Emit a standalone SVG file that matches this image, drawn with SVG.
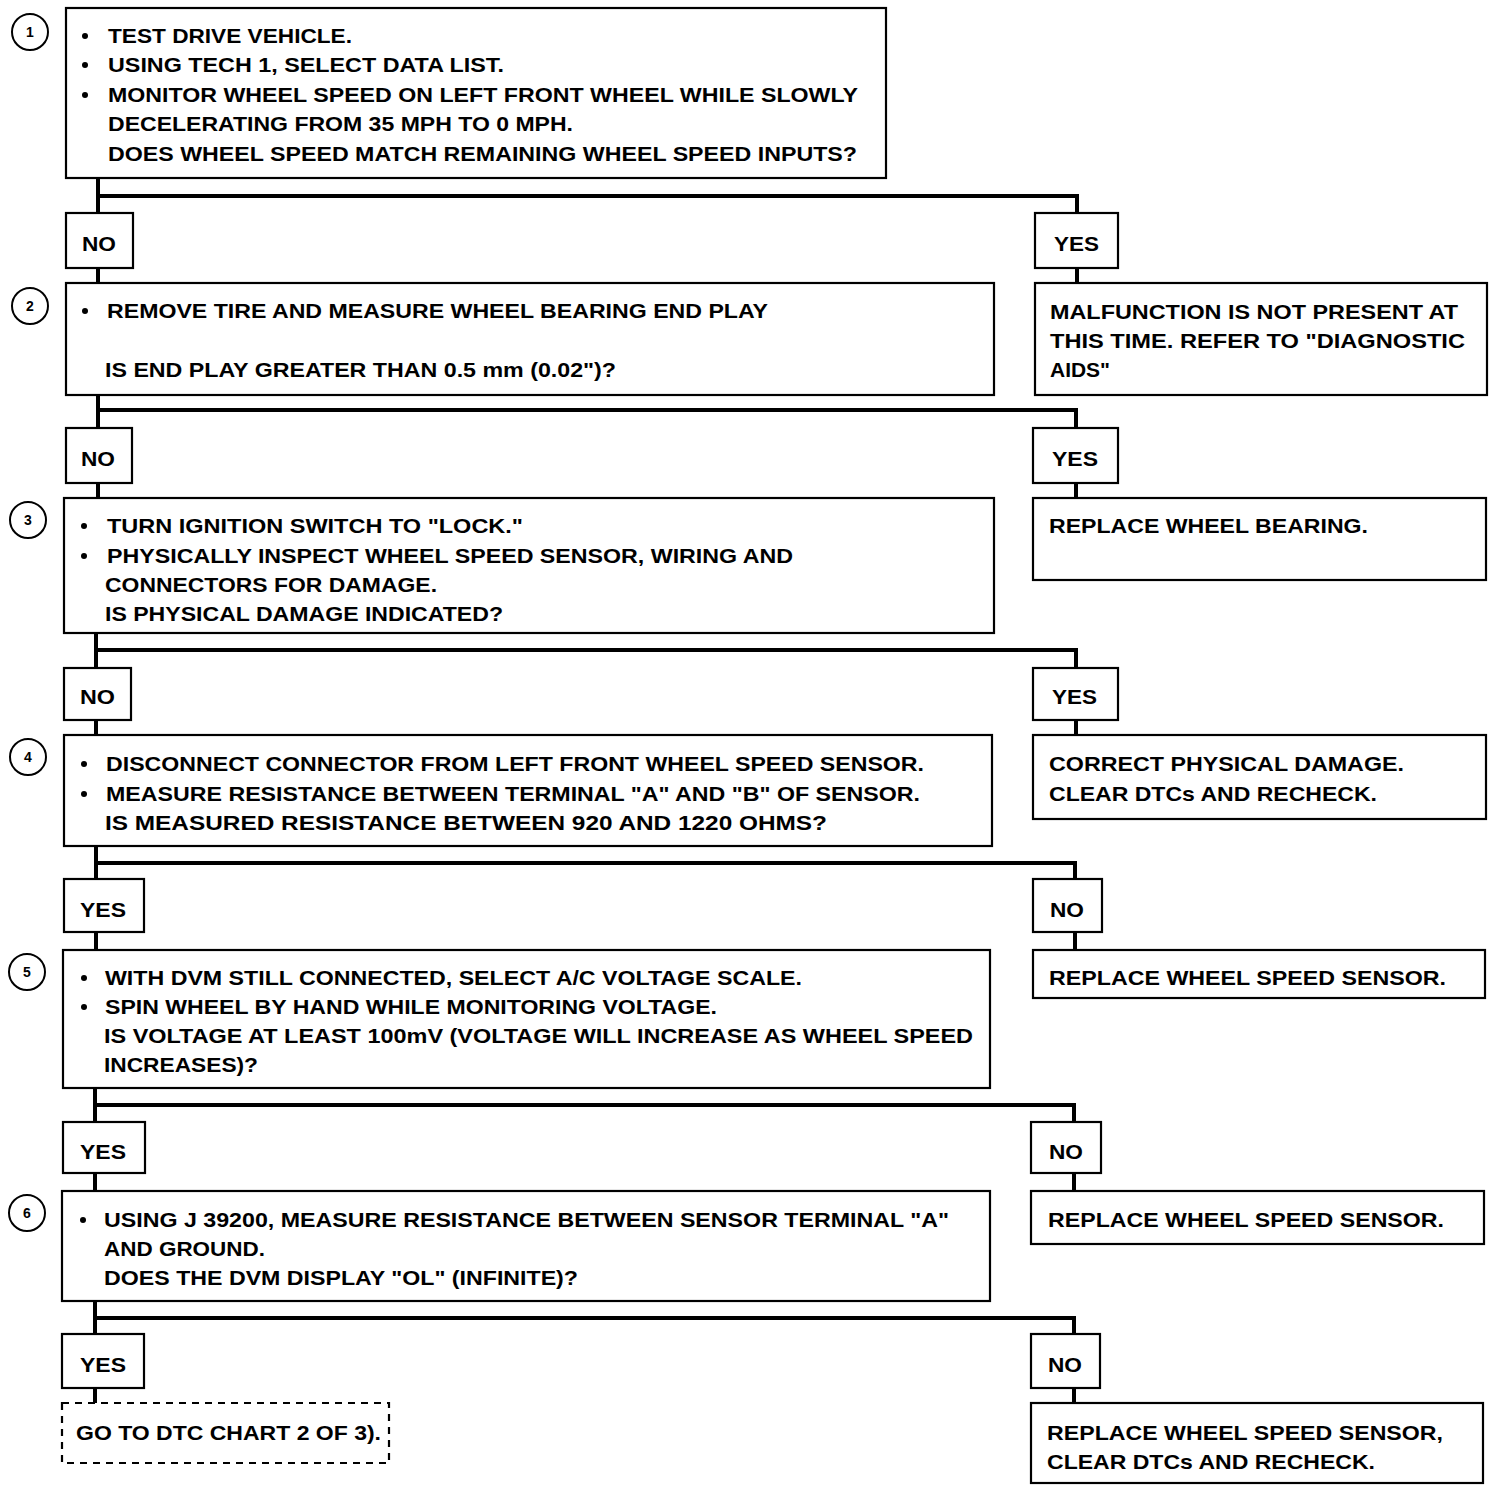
<svg xmlns="http://www.w3.org/2000/svg" width="1504" height="1492" viewBox="0 0 1504 1492">
<style>
  .box{fill:#fff;stroke:#000;stroke-width:2.2}
  .dash{fill:#fff;stroke:#000;stroke-width:2.2;stroke-dasharray:7 6}
  .wire{fill:none;stroke:#000;stroke-width:4}
  .circ{fill:#fff;stroke:#000;stroke-width:2}
  text{font-family:"Liberation Sans",Arial,sans-serif;font-weight:bold;font-size:21px;fill:#000}
  .num{font-size:14px;text-anchor:middle}
  .dot{fill:#000}
</style>
<rect width="1504" height="1492" fill="#fff"/>
<g id="connectors">
  <path class="wire" d="M98,178 V213 M98,268 V283 M98,196 H1077 V213 M1077,268 V283"/>
  <path class="wire" d="M98,395 V428 M98,483 V498 M98,410 H1076 V428 M1076,483 V498"/>
  <path class="wire" d="M96,633 V668 M96,720 V735 M96,650 H1076 V668 M1076,720 V735"/>
  <path class="wire" d="M96,846 V879 M96,932 V950 M96,863 H1075 V879 M1075,932 V950"/>
  <path class="wire" d="M95,1088 V1122 M95,1173 V1191 M95,1105 H1074 V1122 M1074,1173 V1191"/>
  <path class="wire" d="M95,1301 V1334 M95,1388 V1403 M95,1318 H1074 V1334 M1074,1388 V1403"/>
</g>
<g id="step1">
  <circle class="circ" cx="30" cy="32" r="18"/><text class="num" x="30" y="37">1</text>
  <rect class="box" x="66" y="8" width="820" height="170"/>
  <circle class="dot" cx="85" cy="36" r="3"/><circle class="dot" cx="85" cy="65" r="3"/><circle class="dot" cx="85" cy="95" r="3"/>
  <text x="108" y="43" textLength="244" lengthAdjust="spacingAndGlyphs">TEST DRIVE VEHICLE.</text>
  <text x="108" y="72" textLength="396" lengthAdjust="spacingAndGlyphs">USING TECH 1, SELECT DATA LIST.</text>
  <text x="108" y="102" textLength="750" lengthAdjust="spacingAndGlyphs">MONITOR WHEEL SPEED ON LEFT FRONT WHEEL WHILE SLOWLY</text>
  <text x="108" y="131" textLength="465" lengthAdjust="spacingAndGlyphs">DECELERATING FROM 35 MPH TO 0 MPH.</text>
  <text x="108" y="161" textLength="749" lengthAdjust="spacingAndGlyphs">DOES WHEEL SPEED MATCH REMAINING WHEEL SPEED INPUTS?</text>
</g>
<g id="no1"><rect class="box" x="66" y="213" width="67" height="55"/><text x="82" y="251" textLength="34" lengthAdjust="spacingAndGlyphs">NO</text></g>
<g id="yes1"><rect class="box" x="1035" y="213" width="83" height="55"/><text x="1054" y="251" textLength="45" lengthAdjust="spacingAndGlyphs">YES</text></g>
<g id="result1">
  <rect class="box" x="1035" y="283" width="452" height="112"/>
  <text x="1050" y="319" textLength="408" lengthAdjust="spacingAndGlyphs">MALFUNCTION IS NOT PRESENT AT</text>
  <text x="1050" y="348" textLength="415" lengthAdjust="spacingAndGlyphs">THIS TIME. REFER TO "DIAGNOSTIC</text>
  <text x="1050" y="377" textLength="60" lengthAdjust="spacingAndGlyphs">AIDS"</text>
</g>
<g id="step2">
  <circle class="circ" cx="30" cy="306" r="18"/><text class="num" x="30" y="311">2</text>
  <rect class="box" x="66" y="283" width="928" height="112"/>
  <circle class="dot" cx="85" cy="311" r="3"/>
  <text x="107" y="318" textLength="661" lengthAdjust="spacingAndGlyphs">REMOVE TIRE AND MEASURE WHEEL BEARING END PLAY</text>
  <text x="105" y="377" textLength="511" lengthAdjust="spacingAndGlyphs">IS END PLAY GREATER THAN 0.5 mm (0.02")?</text>
</g>
<g id="no2"><rect class="box" x="66" y="428" width="66" height="55"/><text x="81" y="466" textLength="34" lengthAdjust="spacingAndGlyphs">NO</text></g>
<g id="yes2"><rect class="box" x="1033" y="428" width="85" height="55"/><text x="1052" y="466" textLength="46" lengthAdjust="spacingAndGlyphs">YES</text></g>
<g id="result2">
  <rect class="box" x="1033" y="498" width="453" height="82"/>
  <text x="1049" y="533" textLength="319" lengthAdjust="spacingAndGlyphs">REPLACE WHEEL BEARING.</text>
</g>
<g id="step3">
  <circle class="circ" cx="28" cy="520" r="18"/><text class="num" x="28" y="525">3</text>
  <rect class="box" x="64" y="498" width="930" height="135"/>
  <circle class="dot" cx="84" cy="526" r="3"/><circle class="dot" cx="84" cy="556" r="3"/>
  <text x="107" y="533" textLength="416" lengthAdjust="spacingAndGlyphs">TURN IGNITION SWITCH TO "LOCK."</text>
  <text x="107" y="563" textLength="686" lengthAdjust="spacingAndGlyphs">PHYSICALLY INSPECT WHEEL SPEED SENSOR, WIRING AND</text>
  <text x="105" y="592" textLength="332" lengthAdjust="spacingAndGlyphs">CONNECTORS FOR DAMAGE.</text>
  <text x="105" y="621" textLength="398" lengthAdjust="spacingAndGlyphs">IS PHYSICAL DAMAGE INDICATED?</text>
</g>
<g id="no3"><rect class="box" x="64" y="668" width="67" height="52"/><text x="80" y="704" textLength="35" lengthAdjust="spacingAndGlyphs">NO</text></g>
<g id="yes3"><rect class="box" x="1033" y="668" width="85" height="52"/><text x="1052" y="704" textLength="45" lengthAdjust="spacingAndGlyphs">YES</text></g>
<g id="result3">
  <rect class="box" x="1033" y="735" width="453" height="84"/>
  <text x="1049" y="771" textLength="355" lengthAdjust="spacingAndGlyphs">CORRECT PHYSICAL DAMAGE.</text>
  <text x="1049" y="801" textLength="328" lengthAdjust="spacingAndGlyphs">CLEAR DTCs AND RECHECK.</text>
</g>
<g id="step4">
  <circle class="circ" cx="28" cy="757" r="18"/><text class="num" x="28" y="762">4</text>
  <rect class="box" x="64" y="735" width="928" height="111"/>
  <circle class="dot" cx="84" cy="764" r="3"/><circle class="dot" cx="84" cy="794" r="3"/>
  <text x="106" y="771" textLength="818" lengthAdjust="spacingAndGlyphs">DISCONNECT CONNECTOR FROM LEFT FRONT WHEEL SPEED SENSOR.</text>
  <text x="106" y="801" textLength="814" lengthAdjust="spacingAndGlyphs">MEASURE RESISTANCE BETWEEN TERMINAL "A" AND "B" OF SENSOR.</text>
  <text x="105" y="830" textLength="722" lengthAdjust="spacingAndGlyphs">IS MEASURED RESISTANCE BETWEEN 920 AND 1220 OHMS?</text>
</g>
<g id="yes4"><rect class="box" x="64" y="879" width="80" height="53"/><text x="80" y="917" textLength="46" lengthAdjust="spacingAndGlyphs">YES</text></g>
<g id="no4"><rect class="box" x="1033" y="879" width="69" height="53"/><text x="1050" y="917" textLength="34" lengthAdjust="spacingAndGlyphs">NO</text></g>
<g id="result4">
  <rect class="box" x="1033" y="950" width="452" height="48"/>
  <text x="1049" y="985" textLength="397" lengthAdjust="spacingAndGlyphs">REPLACE WHEEL SPEED SENSOR.</text>
</g>
<g id="step5">
  <circle class="circ" cx="27" cy="972" r="18"/><text class="num" x="27" y="977">5</text>
  <rect class="box" x="63" y="950" width="927" height="138"/>
  <circle class="dot" cx="84" cy="978" r="3"/><circle class="dot" cx="84" cy="1007" r="3"/>
  <text x="105" y="985" textLength="697" lengthAdjust="spacingAndGlyphs">WITH DVM STILL CONNECTED, SELECT A/C VOLTAGE SCALE.</text>
  <text x="105" y="1014" textLength="612" lengthAdjust="spacingAndGlyphs">SPIN WHEEL BY HAND WHILE MONITORING VOLTAGE.</text>
  <text x="104" y="1043" textLength="869" lengthAdjust="spacingAndGlyphs">IS VOLTAGE AT LEAST 100mV (VOLTAGE WILL INCREASE AS WHEEL SPEED</text>
  <text x="104" y="1072" textLength="154" lengthAdjust="spacingAndGlyphs">INCREASES)?</text>
</g>
<g id="yes5"><rect class="box" x="63" y="1122" width="82" height="51"/><text x="80" y="1159" textLength="46" lengthAdjust="spacingAndGlyphs">YES</text></g>
<g id="no5"><rect class="box" x="1031" y="1122" width="70" height="51"/><text x="1049" y="1159" textLength="34" lengthAdjust="spacingAndGlyphs">NO</text></g>
<g id="result5">
  <rect class="box" x="1031" y="1191" width="453" height="53"/>
  <text x="1048" y="1227" textLength="396" lengthAdjust="spacingAndGlyphs">REPLACE WHEEL SPEED SENSOR.</text>
</g>
<g id="step6">
  <circle class="circ" cx="27" cy="1213" r="18"/><text class="num" x="27" y="1218">6</text>
  <rect class="box" x="62" y="1191" width="928" height="110"/>
  <circle class="dot" cx="83" cy="1220" r="3"/>
  <text x="104" y="1227" textLength="845" lengthAdjust="spacingAndGlyphs">USING J 39200, MEASURE RESISTANCE BETWEEN SENSOR TERMINAL "A"</text>
  <text x="104" y="1256" textLength="161" lengthAdjust="spacingAndGlyphs">AND GROUND.</text>
  <text x="104" y="1285" textLength="474" lengthAdjust="spacingAndGlyphs">DOES THE DVM DISPLAY "OL" (INFINITE)?</text>
</g>
<g id="yes6"><rect class="box" x="62" y="1334" width="82" height="54"/><text x="80" y="1372" textLength="46" lengthAdjust="spacingAndGlyphs">YES</text></g>
<g id="no6"><rect class="box" x="1031" y="1334" width="69" height="54"/><text x="1048" y="1372" textLength="34" lengthAdjust="spacingAndGlyphs">NO</text></g>
<g id="goto">
  <rect class="dash" x="62" y="1403" width="327" height="60"/>
  <text x="76" y="1440" textLength="305" lengthAdjust="spacingAndGlyphs">GO TO DTC CHART 2 OF 3).</text>
</g>
<g id="result6">
  <rect class="box" x="1031" y="1403" width="452" height="80"/>
  <text x="1047" y="1440" textLength="396" lengthAdjust="spacingAndGlyphs">REPLACE WHEEL SPEED SENSOR,</text>
  <text x="1047" y="1469" textLength="328" lengthAdjust="spacingAndGlyphs">CLEAR DTCs AND RECHECK.</text>
</g>
</svg>
